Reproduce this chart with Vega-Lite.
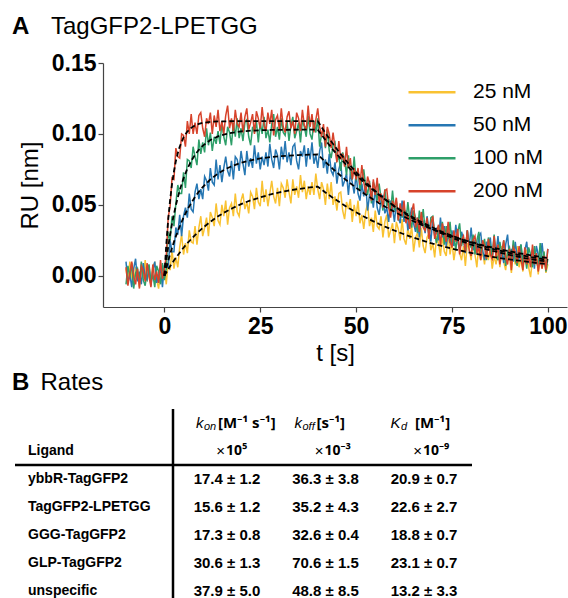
{
"$schema": "https://vega.github.io/schema/vega-lite/v6.json",
"width": 464, "height": 244,
"autosize": {"type": "none"},
"padding": {"left": 103, "top": 63, "right": 1, "bottom": 291},
"background": "white",
"config": {"font": "Liberation Sans", "view": {"stroke": null}},
"datasets": {
"raw": [
{"t":-10,"25":0.005,"50":0.010,"100":-0.006,"200":0.006},
{"t":-9.5,"25":-0.005,"50":-0.005,"100":0.007,"200":-0.007},
{"t":-9,"25":0.010,"50":0.001,"100":-0.001,"200":0.002},
{"t":-8.5,"25":-0.001,"50":-0.008,"100":0.009,"200":0.010},
{"t":-8,"25":-0.007,"50":0.005,"100":-0.009,"200":-0.001},
{"t":-7.5,"25":0.006,"50":0.012,"100":0.002,"200":-0.006},
{"t":-7,"25":0.002,"50":-0.004,"100":0.005,"200":0.005},
{"t":-6.5,"25":-0.008,"50":0.003,"100":-0.005,"200":-0.009},
{"t":-6,"25":0.008,"50":-0.006,"100":0.010,"200":0.007},
{"t":-5.5,"25":-0.002,"50":0.009,"100":-0.003,"200":0.004},
{"t":-5,"25":0.011,"50":-0.001,"100":-0.007,"200":-0.004},
{"t":-4.5,"25":-0.004,"50":-0.003,"100":0.004,"200":0.009},
{"t":-4,"25":0.003,"50":0.007,"100":0.008,"200":0.000},
{"t":-3.5,"25":-0.006,"50":-0.007,"100":-0.004,"200":-0.008},
{"t":-3,"25":0.007,"50":0.004,"100":0.001,"200":0.008},
{"t":-2.5,"25":0.009,"50":0.010,"100":-0.008,"200":-0.003},
{"t":-2,"25":-0.003,"50":-0.005,"100":0.007,"200":0.003},
{"t":-1.5,"25":-0.009,"50":0.000,"100":0.003,"200":-0.005},
{"t":-1,"25":0.004,"50":0.006,"100":-0.006,"200":0.011},
{"t":-0.5,"25":0.000,"50":-0.008,"100":0.009,"200":-0.002},
{"t":0,"25":0.007,"50":0.007,"100":-0.003,"200":0.005},
{"t":0.5,"25":-0.006,"50":0.007,"100":0.005,"200":0.014},
{"t":1,"25":0.010,"50":0.006,"100":0.031,"200":0.041},
{"t":1.5,"25":0.004,"50":0.025,"100":0.025,"200":0.049},
{"t":2,"25":0.018,"50":0.017,"100":0.042,"200":0.069},
{"t":2.5,"25":0.005,"50":0.017,"100":0.035,"200":0.068},
{"t":3,"25":0.013,"50":0.034,"100":0.051,"200":0.090},
{"t":3.5,"25":0.006,"50":0.029,"100":0.064,"200":0.084},
{"t":4,"25":0.020,"50":0.043,"100":0.058,"200":0.083},
{"t":4.5,"25":0.029,"50":0.028,"100":0.058,"200":0.100},
{"t":5,"25":0.015,"50":0.042,"100":0.073,"200":0.099},
{"t":5.5,"25":0.023,"50":0.048,"100":0.062,"200":0.091},
{"t":6,"25":0.016,"50":0.041,"100":0.082,"200":0.109},
{"t":6.5,"25":0.032,"50":0.058,"100":0.081,"200":0.100},
{"t":7,"25":0.024,"50":0.047,"100":0.076,"200":0.114},
{"t":7.5,"25":0.023,"50":0.045,"100":0.091,"200":0.100},
{"t":8,"25":0.035,"50":0.059,"100":0.084,"200":0.108},
{"t":8.5,"25":0.022,"50":0.065,"100":0.078,"200":0.100},
{"t":9,"25":0.034,"50":0.054,"100":0.096,"200":0.113},
{"t":9.5,"25":0.042,"50":0.061,"100":0.086,"200":0.115},
{"t":10,"25":0.028,"50":0.054,"100":0.094,"200":0.104},
{"t":10.5,"25":0.034,"50":0.070,"100":0.087,"200":0.098},
{"t":11,"25":0.041,"50":0.067,"100":0.104,"200":0.111},
{"t":11.5,"25":0.028,"50":0.060,"100":0.092,"200":0.107},
{"t":12,"25":0.045,"50":0.076,"100":0.101,"200":0.115},
{"t":12.5,"25":0.041,"50":0.066,"100":0.088,"200":0.100},
{"t":13,"25":0.035,"50":0.064,"100":0.098,"200":0.113},
{"t":13.5,"25":0.051,"50":0.082,"100":0.093,"200":0.105},
{"t":14,"25":0.039,"50":0.068,"100":0.102,"200":0.117},
{"t":14.5,"25":0.036,"50":0.078,"100":0.093,"200":0.102},
{"t":15,"25":0.050,"50":0.066,"100":0.108,"200":0.109},
{"t":15.5,"25":0.042,"50":0.076,"100":0.098,"200":0.100},
{"t":16,"25":0.053,"50":0.084,"100":0.092,"200":0.113},
{"t":16.5,"25":0.036,"50":0.074,"100":0.105,"200":0.120},
{"t":17,"25":0.048,"50":0.070,"100":0.101,"200":0.104},
{"t":17.5,"25":0.051,"50":0.081,"100":0.092,"200":0.111},
{"t":18,"25":0.042,"50":0.068,"100":0.108,"200":0.102},
{"t":18.5,"25":0.058,"50":0.084,"100":0.098,"200":0.117},
{"t":19,"25":0.045,"50":0.082,"100":0.111,"200":0.107},
{"t":19.5,"25":0.042,"50":0.074,"100":0.097,"200":0.105},
{"t":20,"25":0.053,"50":0.088,"100":0.104,"200":0.115},
{"t":20.5,"25":0.058,"50":0.079,"100":0.095,"200":0.101},
{"t":21,"25":0.047,"50":0.071,"100":0.108,"200":0.112},
{"t":21.5,"25":0.052,"50":0.088,"100":0.110,"200":0.118},
{"t":22,"25":0.044,"50":0.077,"100":0.098,"200":0.103},
{"t":22.5,"25":0.059,"50":0.083,"100":0.092,"200":0.108},
{"t":23,"25":0.056,"50":0.076,"100":0.105,"200":0.114},
{"t":23.5,"25":0.047,"50":0.092,"100":0.101,"200":0.100},
{"t":24,"25":0.062,"50":0.079,"100":0.109,"200":0.116},
{"t":24.5,"25":0.052,"50":0.087,"100":0.094,"200":0.111},
{"t":25,"25":0.049,"50":0.075,"100":0.108,"200":0.104},
{"t":25.5,"25":0.067,"50":0.084,"100":0.100,"200":0.119},
{"t":26,"25":0.052,"50":0.078,"100":0.112,"200":0.106},
{"t":26.5,"25":0.061,"50":0.087,"100":0.097,"200":0.102},
{"t":27,"25":0.049,"50":0.077,"100":0.103,"200":0.115},
{"t":27.5,"25":0.058,"50":0.093,"100":0.094,"200":0.107},
{"t":28,"25":0.067,"50":0.082,"100":0.107,"200":0.117},
{"t":28.5,"25":0.056,"50":0.076,"100":0.114,"200":0.099},
{"t":29,"25":0.051,"50":0.089,"100":0.098,"200":0.110},
{"t":29.5,"25":0.062,"50":0.085,"100":0.105,"200":0.113},
{"t":30,"25":0.049,"50":0.075,"100":0.096,"200":0.103},
{"t":30.5,"25":0.065,"50":0.091,"100":0.111,"200":0.118},
{"t":31,"25":0.062,"50":0.082,"100":0.101,"200":0.105},
{"t":31.5,"25":0.055,"50":0.095,"100":0.099,"200":0.101},
{"t":32,"25":0.068,"50":0.080,"100":0.109,"200":0.112},
{"t":32.5,"25":0.059,"50":0.087,"100":0.095,"200":0.116},
{"t":33,"25":0.051,"50":0.078,"100":0.106,"200":0.104},
{"t":33.5,"25":0.068,"50":0.091,"100":0.112,"200":0.109},
{"t":34,"25":0.057,"50":0.093,"100":0.097,"200":0.100},
{"t":34.5,"25":0.063,"50":0.081,"100":0.102,"200":0.115},
{"t":35,"25":0.055,"50":0.075,"100":0.108,"200":0.111},
{"t":35.5,"25":0.071,"50":0.088,"100":0.094,"200":0.102},
{"t":36,"25":0.059,"50":0.084,"100":0.110,"200":0.117},
{"t":36.5,"25":0.067,"50":0.092,"100":0.105,"200":0.106},
{"t":37,"25":0.054,"50":0.077,"100":0.098,"200":0.103},
{"t":37.5,"25":0.063,"50":0.090,"100":0.113,"200":0.120},
{"t":38,"25":0.057,"50":0.082,"100":0.100,"200":0.105},
{"t":38.5,"25":0.066,"50":0.094,"100":0.096,"200":0.114},
{"t":39,"25":0.057,"50":0.079,"100":0.109,"200":0.101},
{"t":39.5,"25":0.072,"50":0.085,"100":0.101,"200":0.110},
{"t":40,"25":0.061,"50":0.076,"100":0.111,"200":0.118},
{"t":40.5,"25":0.054,"50":0.088,"100":0.091,"200":0.105},
{"t":41,"25":0.066,"50":0.094,"100":0.100,"200":0.098},
{"t":41.5,"25":0.061,"50":0.076,"100":0.102,"200":0.107},
{"t":42,"25":0.050,"50":0.082,"100":0.090,"200":0.091},
{"t":42.5,"25":0.065,"50":0.072,"100":0.103,"200":0.105},
{"t":43,"25":0.054,"50":0.086,"100":0.088,"200":0.100},
{"t":43.5,"25":0.066,"50":0.074,"100":0.083,"200":0.090},
{"t":44,"25":0.050,"50":0.071,"100":0.092,"200":0.101},
{"t":44.5,"25":0.056,"50":0.080,"100":0.094,"200":0.090},
{"t":45,"25":0.046,"50":0.065,"100":0.081,"200":0.080},
{"t":45.5,"25":0.058,"50":0.075,"100":0.084,"200":0.095},
{"t":46,"25":0.059,"50":0.080,"100":0.074,"200":0.082},
{"t":46.5,"25":0.046,"50":0.063,"100":0.087,"200":0.086},
{"t":47,"25":0.040,"50":0.067,"100":0.082,"200":0.077},
{"t":47.5,"25":0.052,"50":0.072,"100":0.071,"200":0.091},
{"t":48,"25":0.047,"50":0.057,"100":0.085,"200":0.076},
{"t":48.5,"25":0.054,"50":0.072,"100":0.072,"200":0.083},
{"t":49,"25":0.038,"50":0.066,"100":0.068,"200":0.068},
{"t":49.5,"25":0.050,"50":0.058,"100":0.084,"200":0.076},
{"t":50,"25":0.042,"50":0.072,"100":0.067,"200":0.068},
{"t":50.5,"25":0.053,"50":0.058,"100":0.075,"200":0.076},
{"t":51,"25":0.037,"50":0.053,"100":0.060,"200":0.064},
{"t":51.5,"25":0.043,"50":0.065,"100":0.068,"200":0.078},
{"t":52,"25":0.033,"50":0.056,"100":0.075,"200":0.066},
{"t":52.5,"25":0.045,"50":0.065,"100":0.063,"200":0.058},
{"t":53,"25":0.051,"50":0.046,"100":0.057,"200":0.070},
{"t":53.5,"25":0.035,"50":0.057,"100":0.067,"200":0.065},
{"t":54,"25":0.041,"50":0.059,"100":0.051,"200":0.053},
{"t":54.5,"25":0.031,"50":0.048,"100":0.066,"200":0.068},
{"t":55,"25":0.046,"50":0.062,"100":0.062,"200":0.057},
{"t":55.5,"25":0.035,"50":0.048,"100":0.053,"200":0.069},
{"t":56,"25":0.033,"50":0.043,"100":0.065,"200":0.052},
{"t":56.5,"25":0.042,"50":0.053,"100":0.055,"200":0.058},
{"t":57,"25":0.027,"50":0.057,"100":0.046,"200":0.048},
{"t":57.5,"25":0.038,"50":0.044,"100":0.061,"200":0.060},
{"t":58,"25":0.043,"50":0.048,"100":0.049,"200":0.061},
{"t":58.5,"25":0.027,"50":0.038,"100":0.054,"200":0.048},
{"t":59,"25":0.032,"50":0.053,"100":0.045,"200":0.041},
{"t":59.5,"25":0.037,"50":0.048,"100":0.060,"200":0.053},
{"t":60,"25":0.023,"50":0.038,"100":0.046,"200":0.048},
{"t":60.5,"25":0.038,"50":0.052,"100":0.053,"200":0.055},
{"t":61,"25":0.033,"50":0.041,"100":0.039,"200":0.039},
{"t":61.5,"25":0.025,"50":0.037,"100":0.048,"200":0.051},
{"t":62,"25":0.040,"50":0.053,"100":0.041,"200":0.042},
{"t":62.5,"25":0.026,"50":0.038,"100":0.049,"200":0.053},
{"t":63,"25":0.022,"50":0.046,"100":0.038,"200":0.037},
{"t":63.5,"25":0.034,"50":0.032,"100":0.052,"200":0.043},
{"t":64,"25":0.026,"50":0.041,"100":0.040,"200":0.033},
{"t":64.5,"25":0.035,"50":0.048,"100":0.034,"200":0.045},
{"t":65,"25":0.017,"50":0.037,"100":0.046,"200":0.051},
{"t":65.5,"25":0.027,"50":0.031,"100":0.041,"200":0.034},
{"t":66,"25":0.030,"50":0.041,"100":0.030,"200":0.041},
{"t":66.5,"25":0.020,"50":0.027,"100":0.046,"200":0.031},
{"t":67,"25":0.034,"50":0.042,"100":0.035,"200":0.045},
{"t":67.5,"25":0.021,"50":0.038,"100":0.047,"200":0.034},
{"t":68,"25":0.016,"50":0.030,"100":0.032,"200":0.032},
{"t":68.5,"25":0.027,"50":0.042,"100":0.038,"200":0.041},
{"t":69,"25":0.030,"50":0.033,"100":0.028,"200":0.026},
{"t":69.5,"25":0.018,"50":0.024,"100":0.041,"200":0.037},
{"t":70,"25":0.023,"50":0.040,"100":0.042,"200":0.042},
{"t":70.5,"25":0.013,"50":0.028,"100":0.029,"200":0.026},
{"t":71,"25":0.028,"50":0.034,"100":0.023,"200":0.031},
{"t":71.5,"25":0.023,"50":0.025,"100":0.035,"200":0.036},
{"t":72,"25":0.014,"50":0.041,"100":0.031,"200":0.021},
{"t":72.5,"25":0.029,"50":0.027,"100":0.038,"200":0.037},
{"t":73,"25":0.017,"50":0.035,"100":0.022,"200":0.031},
{"t":73.5,"25":0.014,"50":0.021,"100":0.035,"200":0.024},
{"t":74,"25":0.031,"50":0.030,"100":0.026,"200":0.038},
{"t":74.5,"25":0.015,"50":0.023,"100":0.038,"200":0.024},
{"t":75,"25":0.024,"50":0.032,"100":0.022,"200":0.020},
{"t":75.5,"25":0.011,"50":0.021,"100":0.028,"200":0.032},
{"t":76,"25":0.020,"50":0.036,"100":0.018,"200":0.024},
{"t":76.5,"25":0.027,"50":0.025,"100":0.031,"200":0.033},
{"t":77,"25":0.016,"50":0.018,"100":0.037,"200":0.015},
{"t":77.5,"25":0.011,"50":0.031,"100":0.021,"200":0.025},
{"t":78,"25":0.021,"50":0.026,"100":0.027,"200":0.028},
{"t":78.5,"25":0.007,"50":0.016,"100":0.018,"200":0.017},
{"t":79,"25":0.023,"50":0.032,"100":0.032,"200":0.032},
{"t":79.5,"25":0.019,"50":0.021,"100":0.022,"200":0.018},
{"t":80,"25":0.011,"50":0.034,"100":0.020,"200":0.014},
{"t":80.5,"25":0.024,"50":0.018,"100":0.029,"200":0.025},
{"t":81,"25":0.015,"50":0.025,"100":0.015,"200":0.028},
{"t":81.5,"25":0.006,"50":0.016,"100":0.025,"200":0.016},
{"t":82,"25":0.022,"50":0.028,"100":0.031,"200":0.020},
{"t":82.5,"25":0.011,"50":0.030,"100":0.015,"200":0.011},
{"t":83,"25":0.017,"50":0.018,"100":0.020,"200":0.025},
{"t":83.5,"25":0.008,"50":0.011,"100":0.026,"200":0.021},
{"t":84,"25":0.024,"50":0.024,"100":0.011,"200":0.012},
{"t":84.5,"25":0.011,"50":0.020,"100":0.027,"200":0.026},
{"t":85,"25":0.019,"50":0.027,"100":0.021,"200":0.015},
{"t":85.5,"25":0.005,"50":0.012,"100":0.014,"200":0.012},
{"t":86,"25":0.014,"50":0.025,"100":0.029,"200":0.028},
{"t":86.5,"25":0.008,"50":0.016,"100":0.015,"200":0.013},
{"t":87,"25":0.017,"50":0.028,"100":0.011,"200":0.022},
{"t":87.5,"25":0.006,"50":0.013,"100":0.024,"200":0.008},
{"t":88,"25":0.021,"50":0.018,"100":0.015,"200":0.017},
{"t":88.5,"25":0.010,"50":0.009,"100":0.025,"200":0.025},
{"t":89,"25":0.004,"50":0.022,"100":0.007,"200":0.013},
{"t":89.5,"25":0.017,"50":0.029,"100":0.017,"200":0.008},
{"t":90,"25":0.013,"50":0.012,"100":0.020,"200":0.019},
{"t":90.5,"25":0.002,"50":0.019,"100":0.010,"200":0.004},
{"t":91,"25":0.018,"50":0.010,"100":0.025,"200":0.020},
{"t":91.5,"25":0.008,"50":0.024,"100":0.011,"200":0.017},
{"t":92,"25":0.021,"50":0.014,"100":0.007,"200":0.009},
{"t":92.5,"25":0.006,"50":0.012,"100":0.018,"200":0.021},
{"t":93,"25":0.012,"50":0.022,"100":0.022,"200":0.012},
{"t":93.5,"25":0.003,"50":0.007,"100":0.009,"200":0.004},
{"t":94,"25":0.016,"50":0.018,"100":0.014,"200":0.020},
{"t":94.5,"25":0.018,"50":0.024,"100":0.005,"200":0.008},
{"t":95,"25":0.006,"50":0.009,"100":0.020,"200":0.014},
{"t":95.5,"25":-0.001,"50":0.013,"100":0.015,"200":0.006},
{"t":96,"25":0.012,"50":0.019,"100":0.006,"200":0.022},
{"t":96.5,"25":0.008,"50":0.005,"100":0.021,"200":0.008},
{"t":97,"25":0.016,"50":0.021,"100":0.010,"200":0.016},
{"t":97.5,"25":0.001,"50":0.015,"100":0.006,"200":0.003},
{"t":98,"25":0.014,"50":0.008,"100":0.023,"200":0.012},
{"t":98.5,"25":0.005,"50":0.023,"100":0.008,"200":0.005},
{"t":99,"25":0.017,"50":0.010,"100":0.017,"200":0.014},
{"t":99.5,"25":0.002,"50":0.006,"100":0.003,"200":0.004},
{"t":100,"25":0.008,"50":0.019,"100":0.012,"200":0.019}
],
"fit": [
{"t":0,"25":0,"50":0,"100":0,"200":0},
{"t":0.5,"25":0.0023,"50":0.0053,"100":0.0108,"200":0.0219},
{"t":1,"25":0.0046,"50":0.0105,"100":0.0203,"200":0.0395},
{"t":1.5,"25":0.0067,"50":0.0153,"100":0.0290,"200":0.0535},
{"t":2,"25":0.0088,"50":0.0197,"100":0.0367,"200":0.0646},
{"t":2.5,"25":0.0108,"50":0.0239,"100":0.0435,"200":0.0736},
{"t":3,"25":0.0127,"50":0.0278,"100":0.0497,"200":0.0808},
{"t":3.5,"25":0.0145,"50":0.0314,"100":0.0552,"200":0.0864},
{"t":4,"25":0.0163,"50":0.0348,"100":0.0603,"200":0.0910},
{"t":5,"25":0.0198,"50":0.0411,"100":0.0687,"200":0.0976},
{"t":6,"25":0.0230,"50":0.0466,"100":0.0755,"200":0.1017},
{"t":7,"25":0.0259,"50":0.0513,"100":0.0810,"200":0.1043},
{"t":8,"25":0.0287,"50":0.0556,"100":0.0853,"200":0.1061},
{"t":9,"25":0.0313,"50":0.0593,"100":0.0888,"200":0.1071},
{"t":10,"25":0.0337,"50":0.0625,"100":0.0916,"200":0.1078},
{"t":12,"25":0.0381,"50":0.0679,"100":0.0957,"200":0.1085},
{"t":14,"25":0.0419,"50":0.0721,"100":0.0983,"200":0.1088},
{"t":16,"25":0.0452,"50":0.0753,"100":0.0999,"200":0.1089},
{"t":18,"25":0.0480,"50":0.0777,"100":0.1010,"200":0.109},
{"t":20,"25":0.0505,"50":0.0796,"100":0.1018,"200":0.109},
{"t":22,"25":0.0527,"50":0.0811,"100":0.1022,"200":0.109},
{"t":25,"25":0.0553,"50":0.0827,"100":0.1026,"200":0.109},
{"t":28,"25":0.0576,"50":0.0838,"100":0.1028,"200":0.109},
{"t":30,"25":0.0588,"50":0.0843,"100":0.1029,"200":0.109},
{"t":32,"25":0.0599,"50":0.0846,"100":0.1029,"200":0.109},
{"t":35,"25":0.0612,"50":0.0851,"100":0.1030,"200":0.109},
{"t":38,"25":0.0623,"50":0.0854,"100":0.1030,"200":0.109},
{"t":40,"25":0.0629,"50":0.0855,"100":0.1030,"200":0.109},
{"t":42,"25":0.0587,"50":0.0802,"100":0.0957,"200":0.1006},
{"t":44,"25":0.0549,"50":0.0752,"100":0.0888,"200":0.0929},
{"t":46,"25":0.0513,"50":0.0705,"100":0.0825,"200":0.0858},
{"t":48,"25":0.0479,"50":0.0662,"100":0.0766,"200":0.0791},
{"t":50,"25":0.0448,"50":0.0621,"100":0.0712,"200":0.0730},
{"t":52,"25":0.0418,"50":0.0582,"100":0.0660,"200":0.0675},
{"t":54,"25":0.0391,"50":0.0546,"100":0.0614,"200":0.0622},
{"t":56,"25":0.0365,"50":0.0512,"100":0.0570,"200":0.0574},
{"t":58,"25":0.0341,"50":0.0481,"100":0.0529,"200":0.0531},
{"t":60,"25":0.0319,"50":0.0451,"100":0.0491,"200":0.0489},
{"t":62,"25":0.0298,"50":0.0423,"100":0.0456,"200":0.0452},
{"t":64,"25":0.0278,"50":0.0397,"100":0.0424,"200":0.0417},
{"t":66,"25":0.0260,"50":0.0372,"100":0.0393,"200":0.0385},
{"t":68,"25":0.0243,"50":0.0349,"100":0.0366,"200":0.0355},
{"t":70,"25":0.0226,"50":0.0327,"100":0.0340,"200":0.0328},
{"t":72,"25":0.0212,"50":0.0307,"100":0.0315,"200":0.0303},
{"t":74,"25":0.0198,"50":0.0288,"100":0.0293,"200":0.0280},
{"t":76,"25":0.0185,"50":0.0270,"100":0.0272,"200":0.0258},
{"t":78,"25":0.0173,"50":0.0253,"100":0.0252,"200":0.0239},
{"t":80,"25":0.0162,"50":0.0238,"100":0.0235,"200":0.0220},
{"t":82,"25":0.0151,"50":0.0223,"100":0.0218,"200":0.0203},
{"t":84,"25":0.0141,"50":0.0209,"100":0.0202,"200":0.0187},
{"t":86,"25":0.0131,"50":0.0196,"100":0.0187,"200":0.0173},
{"t":88,"25":0.0123,"50":0.0184,"100":0.0174,"200":0.0160},
{"t":90,"25":0.0115,"50":0.0173,"100":0.0162,"200":0.0147},
{"t":92,"25":0.0108,"50":0.0162,"100":0.0150,"200":0.0136},
{"t":94,"25":0.0101,"50":0.0152,"100":0.0140,"200":0.0125},
{"t":96,"25":0.0094,"50":0.0142,"100":0.0130,"200":0.0116},
{"t":98,"25":0.0087,"50":0.0133,"100":0.0121,"200":0.0107},
{"t":100,"25":0.0082,"50":0.0126,"100":0.0112,"200":0.0099}
],
"sections": [{"letter": "A", "name": "TagGFP2-LPETGG"}, {"letter": "B", "name": "Rates"}],
"ligands": [
{"r": 1, "txt": "Ligand"},
{"r": 2, "txt": "ybbR-TagGFP2"},
{"r": 3, "txt": "TagGFP2-LPETGG"},
{"r": 4, "txt": "GGG-TagGFP2"},
{"r": 5, "txt": "GLP-TagGFP2"},
{"r": 6, "txt": "unspecific"}
],
"headers": [
{"c": 1, "k": "k", "sub": "on", "unit": "[M\u207b\u00b9 s\u207b\u00b9]", "pre": "\u00d7", "pow": "10\u2075"},
{"c": 2, "k": "k", "sub": "off", "unit": "[s\u207b\u00b9]", "pre": "\u00d7", "pow": "10\u207b\u00b3"},
{"c": 3, "k": "K", "sub": "d", "unit": "[M\u207b\u00b9]", "pre": "\u00d7", "pow": "10\u207b\u2079"}
],
"cells": [
{"r": 2, "c": 1, "txt": "17.4 \u00b1 1.2"}, {"r": 2, "c": 2, "txt": "36.3 \u00b1 3.8"}, {"r": 2, "c": 3, "txt": "20.9 \u00b1 0.7"},
{"r": 3, "c": 1, "txt": "15.6 \u00b1 1.2"}, {"r": 3, "c": 2, "txt": "35.2 \u00b1 4.3"}, {"r": 3, "c": 3, "txt": "22.6 \u00b1 2.7"},
{"r": 4, "c": 1, "txt": "17.3 \u00b1 0.8"}, {"r": 4, "c": 2, "txt": "32.6 \u00b1 0.4"}, {"r": 4, "c": 3, "txt": "18.8 \u00b1 0.7"},
{"r": 5, "c": 1, "txt": "30.6 \u00b1 1.3"}, {"r": 5, "c": 2, "txt": "70.6 \u00b1 1.5"}, {"r": 5, "c": 3, "txt": "23.1 \u00b1 0.7"},
{"r": 6, "c": 1, "txt": "37.9 \u00b1 5.0"}, {"r": 6, "c": 2, "txt": "48.8 \u00b1 8.5"}, {"r": 6, "c": 3, "txt": "13.2 \u00b1 3.3"}
]
},
"layer": [
{
"layer": [
{
"data": {"name": "raw"},
"transform": [{"fold": ["25", "50", "100", "200"], "as": ["conc", "RU"]}],
"mark": {"type": "line", "strokeWidth": 1.5},
"encoding": {
"x": {"field": "t", "type": "quantitative", "scale": {"domain": [-16, 105], "nice": false, "zero": false},
"axis": {"values": [0, 25, 50, 75, 100], "title": "t [s]", "titleFontSize": 24, "titleFontWeight": "normal", "titleColor": "black", "titlePadding": 3, "labelFontSize": 23, "labelFontWeight": "bold", "labelColor": "black", "labelPadding": 3, "labelFlush": false, "labelOverlap": false, "tickSize": 5, "tickColor": "#444", "tickWidth": 1.2, "domainColor": "#444", "domainWidth": 1.2, "grid": false}},
"y": {"field": "RU", "type": "quantitative", "scale": {"domain": [-0.022, 0.15], "nice": false, "zero": false},
"axis": {"values": [0, 0.05, 0.1, 0.15], "format": ".2f", "title": "RU [nm]", "titleFontSize": 24, "titleFontWeight": "normal", "titleColor": "black", "titlePadding": 9, "labelFontSize": 23, "labelFontWeight": "bold", "labelColor": "black", "labelPadding": 2, "labelFlush": false, "labelOverlap": false, "tickSize": 5, "tickColor": "#444", "tickWidth": 1.2, "domainColor": "#444", "domainWidth": 1.2, "grid": false}},
"color": {"field": "conc", "type": "nominal", "scale": {"domain": ["25", "50", "100", "200"], "range": ["#f9c232", "#2677b3", "#2e9f69", "#d7432b"]},
"legend": {"title": null, "orient": "none", "legendX": 304, "legendY": 13, "symbolType": "stroke", "symbolSize": 2209, "symbolStrokeWidth": 2.5, "labelFontSize": 21, "labelFont": "Liberation Sans", "labelColor": "black", "labelOffset": 16, "rowPadding": 0, "clipHeight": 32.5, "labelExpr": "datum.label + ' nM'"}}
}
},
{
"data": {"name": "fit"},
"transform": [{"fold": ["25", "50", "100", "200"], "as": ["conc", "RU"]}],
"mark": {"type": "line", "color": "black", "strokeWidth": 1.8, "strokeDash": [5, 3]},
"encoding": {
"x": {"field": "t", "type": "quantitative"},
"y": {"field": "RU", "type": "quantitative"},
"detail": {"field": "conc", "type": "nominal"}
}
}
]
},
{
"layer": [
{
"data": {"name": "sections"},
"transform": [{"filter": "datum.letter == 'A'"}],
"mark": {"type": "text", "align": "left", "baseline": "middle", "fontSize": 24, "fontWeight": "bold", "color": "black", "dx": -116.5, "dy": -4},
"encoding": {
"x": {"datum": 0, "type": "quantitative", "scale": {"domain": [1, 3], "range": [124, 321], "nice": false, "zero": false}, "axis": null},
"y": {"datum": -14, "type": "quantitative", "scale": {"domain": [0, 6], "range": [360, 528], "nice": false, "zero": false}, "axis": null},
"text": {"field": "letter"}
}
},
{
"data": {"name": "sections"},
"transform": [{"filter": "datum.letter == 'A'"}],
"mark": {"type": "text", "align": "left", "baseline": "middle", "fontSize": 24, "fontWeight": "normal", "color": "black", "dx": -77.5, "dy": -4},
"encoding": {
"x": {"datum": 0, "type": "quantitative", "axis": null},
"y": {"datum": -14, "type": "quantitative", "axis": null},
"text": {"field": "name"}
}
},
{
"data": {"name": "sections"},
"transform": [{"filter": "datum.letter == 'B'"}],
"mark": {"type": "text", "align": "left", "baseline": "middle", "fontSize": 24, "fontWeight": "bold", "color": "black", "dx": -116.5, "dy": -12},
"encoding": {
"x": {"datum": 0, "type": "quantitative", "axis": null},
"y": {"datum": -1, "type": "quantitative", "axis": null},
"text": {"field": "letter"}
}
},
{
"data": {"name": "sections"},
"transform": [{"filter": "datum.letter == 'B'"}],
"mark": {"type": "text", "align": "left", "baseline": "middle", "fontSize": 24, "fontWeight": "normal", "color": "black", "dx": -88, "dy": -12},
"encoding": {
"x": {"datum": 0, "type": "quantitative", "axis": null},
"y": {"datum": -1, "type": "quantitative", "axis": null},
"text": {"field": "name"}
}
},
{
"data": {"name": "ligands"},
"mark": {"type": "text", "align": "left", "baseline": "middle", "fontSize": 14, "fontWeight": "bold", "color": "black", "dx": -100.5},
"encoding": {
"x": {"datum": 0, "type": "quantitative", "axis": null},
"y": {"field": "r", "type": "quantitative", "axis": null},
"text": {"field": "txt"}
}
},
{
"data": {"name": "cells"},
"mark": {"type": "text", "align": "center", "baseline": "middle", "fontSize": 15, "fontWeight": "bold", "color": "black"},
"encoding": {
"x": {"field": "c", "type": "quantitative", "axis": null},
"y": {"field": "r", "type": "quantitative", "axis": null},
"text": {"field": "txt"}
}
},
{
"data": {"name": "headers"},
"mark": {"type": "text", "align": "left", "baseline": "middle", "font": "Noto Sans", "fontSize": 15, "fontWeight": "bold", "color": "black", "dx": -9},
"encoding": {
"x": {"field": "c", "type": "quantitative", "axis": null},
"y": {"datum": 0, "type": "quantitative", "axis": null},
"text": {"field": "unit"}
}
},
{
"data": {"name": "headers"},
"mark": {"type": "text", "align": "left", "baseline": "middle", "fontSize": 11, "fontStyle": "italic", "color": "black", "dx": -23, "dy": 4},
"encoding": {
"x": {"field": "c", "type": "quantitative", "axis": null},
"y": {"datum": 0, "type": "quantitative", "axis": null},
"text": {"field": "sub"}
}
},
{
"data": {"name": "headers"},
"mark": {"type": "text", "align": "right", "baseline": "middle", "fontSize": 15, "fontStyle": "italic", "color": "black", "dx": -23.5},
"encoding": {
"x": {"field": "c", "type": "quantitative", "axis": null},
"y": {"datum": 0, "type": "quantitative", "axis": null},
"text": {"field": "k"}
}
},
{
"data": {"name": "headers"},
"mark": {"type": "text", "align": "right", "baseline": "middle", "fontSize": 15, "fontWeight": "normal", "color": "black", "dx": -2},
"encoding": {
"x": {"field": "c", "type": "quantitative", "axis": null},
"y": {"datum": 1, "type": "quantitative", "axis": null},
"text": {"field": "pre"}
}
},
{
"data": {"name": "headers"},
"mark": {"type": "text", "align": "left", "baseline": "middle", "font": "Noto Sans", "fontSize": 14, "fontWeight": "bold", "color": "black", "dx": -1},
"encoding": {
"x": {"field": "c", "type": "quantitative", "axis": null},
"y": {"datum": 1, "type": "quantitative", "axis": null},
"text": {"field": "pow"}
}
},
{
"data": {"values": [{}]},
"mark": {"type": "rule", "color": "black", "strokeWidth": 2.5, "xOffset": 44.5},
"encoding": {
"x": {"datum": 0, "type": "quantitative", "axis": null},
"y": {"datum": -0.5, "type": "quantitative", "axis": null},
"y2": {"datum": 7}
}
},
{
"data": {"values": [{}]},
"mark": {"type": "rule", "color": "black", "strokeWidth": 2.5, "xOffset": -113.5, "x2Offset": 48},
"encoding": {
"x": {"datum": 0, "type": "quantitative", "axis": null},
"x2": {"datum": 3},
"y": {"datum": 1.5, "type": "quantitative", "axis": null}
}
}
]
}
],
"resolve": {"scale": {"x": "independent", "y": "independent"}}
}
